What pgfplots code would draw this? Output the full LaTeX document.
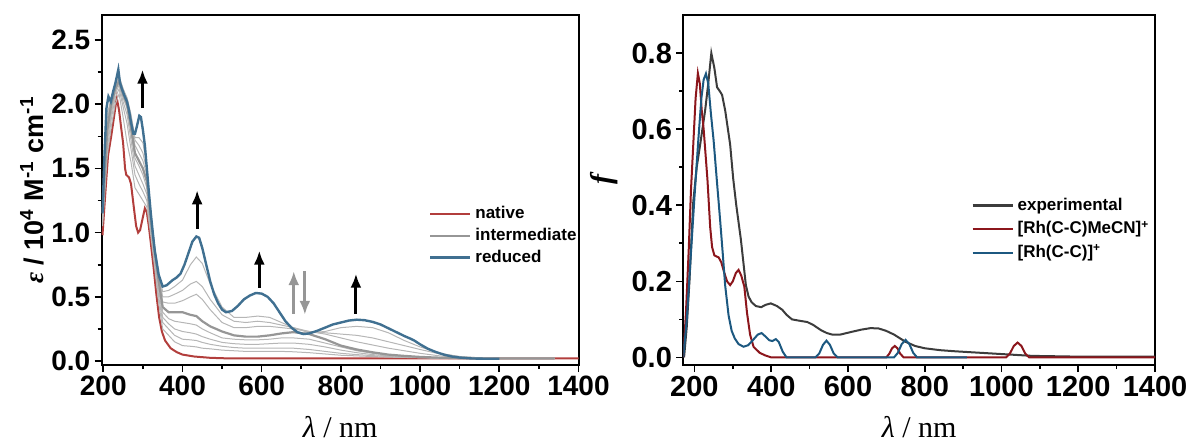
\documentclass[border=0pt]{standalone}
\usepackage{fontspec}
\setmainfont{Liberation Sans}
\newfontfamily\serif{Liberation Serif}
\usepackage{pgfplots}
\pgfplotsset{compat=1.18}
\usepackage{pgfplotstable}
\usetikzlibrary{arrows.meta}
\definecolor{natred}{RGB}{178,62,60}
\definecolor{redblue}{RGB}{64,112,145}
\definecolor{ltgray}{RGB}{182,182,182}
\definecolor{mdgray}{RGB}{150,150,150}
\definecolor{expgray}{RGB}{60,60,60}
\definecolor{calcred}{RGB}{140,22,28}
\definecolor{calcblue}{RGB}{28,88,128}

\pgfplotstableread{
lam g1 g2 g3 g4 g5 g6 g7 g8
198 1.05 1.08 1.10 1.12 1.15 1.18 1.20 1.22
210 1.60 1.65 1.70 1.75 1.80 1.85 1.88 1.92
220 1.82 1.88 1.92 1.95 2.00 2.02 2.03 2.05
230 2.00 2.05 2.08 2.10 2.12 2.14 2.15 2.16
240 2.08 2.12 2.15 2.17 2.18 2.20 2.20 2.22
250 1.90 1.98 2.02 2.05 2.08 2.10 2.12 2.12
260 1.70 1.85 1.92 1.97 2.00 2.02 2.04 2.05
270 1.55 1.65 1.72 1.78 1.82 1.85 1.90 1.92
280 1.35 1.45 1.52 1.58 1.62 1.68 1.72 1.74
290 1.30 1.38 1.45 1.52 1.56 1.62 1.68 1.74
300 1.25 1.32 1.38 1.45 1.50 1.56 1.62 1.70
310 1.20 1.25 1.30 1.35 1.40 1.45 1.48 1.52
320 0.98 1.02 1.05 1.08 1.10 1.12 1.14 1.15
330 0.72 0.76 0.80 0.83 0.85 0.86 0.87 0.88
340 0.45 0.50 0.55 0.60 0.62 0.64 0.66 0.68
350 0.25 0.30 0.34 0.38 0.42 0.46 0.50 0.54
365 0.20 0.25 0.29 0.33 0.38 0.45 0.50 0.55
380 0.15 0.20 0.25 0.31 0.38 0.45 0.52 0.58
400 0.12 0.17 0.23 0.30 0.38 0.47 0.55 0.63
420 0.115 0.165 0.22 0.29 0.36 0.50 0.60 0.75
435 0.11 0.16 0.21 0.28 0.35 0.52 0.62 0.81
450 0.10 0.145 0.19 0.25 0.31 0.48 0.58 0.76
470 0.095 0.13 0.17 0.22 0.27 0.40 0.48 0.60
500 0.085 0.115 0.145 0.18 0.23 0.30 0.36 0.42
530 0.08 0.105 0.135 0.17 0.20 0.26 0.31 0.34
560 0.075 0.10 0.13 0.165 0.19 0.26 0.30 0.34
590 0.075 0.10 0.13 0.165 0.19 0.27 0.31 0.35
620 0.075 0.10 0.135 0.17 0.20 0.27 0.30 0.34
650 0.075 0.10 0.14 0.18 0.215 0.26 0.28 0.30
680 0.072 0.10 0.14 0.18 0.225 0.25 0.26 0.26
720 0.065 0.09 0.13 0.17 0.21 0.23 0.23 0.22
760 0.055 0.075 0.11 0.14 0.17 0.21 0.22 0.23
800 0.045 0.06 0.085 0.11 0.12 0.18 0.21 0.26
840 0.04 0.05 0.065 0.08 0.09 0.15 0.20 0.27
880 0.035 0.042 0.05 0.06 0.068 0.125 0.18 0.26
920 0.03 0.035 0.04 0.045 0.05 0.10 0.15 0.22
960 0.028 0.03 0.033 0.035 0.04 0.08 0.12 0.16
1000 0.025 0.027 0.028 0.03 0.032 0.06 0.09 0.11
1050 0.022 0.023 0.024 0.025 0.026 0.04 0.055 0.06
1100 0.02 0.02 0.021 0.021 0.022 0.028 0.035 0.035
1150 0.02 0.02 0.02 0.02 0.02 0.022 0.025 0.025
1200 0.02 0.02 0.02 0.02 0.02 0.02 0.02 0.02
1340 0.02 0.02 0.02 0.02 0.02 0.02 0.02 0.02
}\graytab

\pgfplotsset{myax/.style={
  scale only axis,
  axis line style={line width=1pt},
  tick pos=left, tick align=outside,
  major tick length=3.5pt, minor tick length=2pt,
  every tick/.append style={black, line width=0.8pt},
  minor tick num=1,
  xtick={200,400,600,800,1000,1200,1400},
  tick label style={font=\bfseries\fontsize{14}{14}\selectfont},
  /pgf/number format/assume math mode=true,
  xticklabel style={/pgf/number format/1000 sep={}, inner sep=2pt},
  yticklabel style={/pgf/number format/fixed, /pgf/number format/fixed zerofill, /pgf/number format/precision=1, inner sep=2pt},
  xlabel style={at={(axis description cs:0.5,0)}, anchor=base, yshift=-36pt, font=\serif\fontsize{15}{15}\selectfont},
  legend cell align=left,
  legend image code/.code={\draw[#1, line width=1.1pt] (0pt,0pt) -- (20pt,0pt);},
}}

\begin{document}
\begin{tikzpicture}
\useasboundingbox (0,0) rectangle (594.5pt,220.5pt);

\begin{axis}[myax,
  at={(50.85pt,38pt)}, anchor=south west,
  width=238.4pt, height=175pt,
  xmin=196, xmax=1400, ymin=-0.031, ymax=2.695,
  ytick={0,0.5,1,1.5,2,2.5},
  xlabel={{\itshape λ} / nm},
  ylabel={{\serif\itshape ε} / 10\textsuperscript{4} M\textsuperscript{-1} cm\textsuperscript{-1}},
  ylabel style={at={(axis description cs:-0.146,0.5)}, anchor=center, font=\bfseries\fontsize{13.5}{13.5}\selectfont},
  legend style={at={(axis description cs:0.686,0.466)}, anchor=north west, draw=none, fill=none,
    font=\bfseries\fontsize{8.5}{8.5}\selectfont, row sep=-0.75pt, inner sep=0pt},
]
\addlegendimage{natred}
\addlegendentry{native}
\addlegendimage{mdgray}
\addlegendentry{intermediate}
\addlegendimage{redblue}
\addlegendentry{reduced}

\addplot[natred, line width=1pt, forget plot] coordinates {
(198,0.98) (205,1.3) (212,1.6) (220,1.75) (228,1.92) (234,2.05) (240,1.95) (245,1.82) (250,1.7) (255,1.5) (258,1.45) (265,1.43) (270,1.38) (277,1.2) (283,1.05) (288,1.0) (293,1.02) (300,1.12) (305,1.19) (310,1.16) (315,1.05) (320,0.92) (327,0.73) (334,0.52) (341,0.34) (348,0.23) (356,0.16) (370,0.1) (385,0.07) (400,0.05) (430,0.035) (470,0.025) (520,0.02) (1400,0.02)};

\addplot[ltgray, line width=0.5pt, forget plot] table[x=lam, y=g1] {\graytab};
\addplot[ltgray, line width=0.5pt, forget plot] table[x=lam, y=g2] {\graytab};
\addplot[ltgray, line width=0.5pt, forget plot] table[x=lam, y=g3] {\graytab};
\addplot[ltgray, line width=0.5pt, forget plot] table[x=lam, y=g4] {\graytab};
\addplot[ltgray, line width=0.5pt, forget plot] table[x=lam, y=g6] {\graytab};
\addplot[ltgray, line width=0.5pt, forget plot] table[x=lam, y=g7] {\graytab};
\addplot[ltgray, line width=0.5pt, forget plot] table[x=lam, y=g8] {\graytab};
\addplot[mdgray, line width=1.1pt, forget plot] table[x=lam, y=g5] {\graytab};

\addplot[redblue, line width=1.2pt, forget plot] coordinates {
(198,1.15) (203,1.6) (208,1.97) (213,2.06) (219,2.02) (225,2.1) (231,2.17) (238,2.27) (242,2.17) (247,2.12) (253,2.07) (260,2.02) (265,1.95) (270,1.86) (276,1.77) (280,1.77) (285,1.83) (291,1.91) (295,1.9) (300,1.8) (305,1.68) (310,1.5) (315,1.32) (320,1.15) (325,1.0) (330,0.86) (340,0.67) (350,0.58) (360,0.59) (375,0.63) (385,0.65) (395,0.68) (405,0.75) (415,0.84) (425,0.93) (435,0.97) (442,0.96) (450,0.88) (460,0.75) (470,0.62) (480,0.52) (490,0.45) (500,0.4) (510,0.38) (525,0.39) (540,0.43) (555,0.48) (570,0.51) (585,0.53) (600,0.525) (615,0.5) (630,0.45) (645,0.38) (660,0.31) (675,0.26) (690,0.225) (705,0.21) (720,0.215) (740,0.235) (760,0.26) (780,0.285) (800,0.3) (820,0.315) (840,0.322) (860,0.318) (880,0.305) (900,0.285) (920,0.255) (940,0.225) (960,0.195) (975,0.175) (985,0.16) (1000,0.13) (1020,0.095) (1040,0.07) (1060,0.05) (1080,0.035) (1100,0.027) (1130,0.02) (1160,0.018) (1200,0.018)};

\draw[-{Latex[length=7pt,width=5.5pt]}, line width=1.5pt] (axis cs:299,1.97) -- (axis cs:299,2.27);
\draw[-{Latex[length=7pt,width=5.5pt]}, line width=1.5pt] (axis cs:437,1.03) -- (axis cs:437,1.33);
\draw[-{Latex[length=7pt,width=5.5pt]}, line width=1.5pt] (axis cs:594,0.57) -- (axis cs:594,0.86);
\draw[-{Latex[length=7pt,width=5.5pt]}, line width=1.5pt] (axis cs:838,0.37) -- (axis cs:838,0.68);
\draw[-{Latex[length=7pt,width=5.5pt]}, line width=1.5pt, mdgray] (axis cs:681,0.37) -- (axis cs:681,0.70);
\draw[-{Latex[length=7pt,width=5.5pt]}, line width=1.5pt, mdgray] (axis cs:709,0.70) -- (axis cs:709,0.36);
\end{axis}

\begin{axis}[myax,
  at={(341.65pt,38pt)}, anchor=south west,
  width=235.85pt, height=175pt,
  xmin=171, xmax=1400, ymin=-0.02, ymax=0.9,
  ytick={0,0.2,0.4,0.6,0.8},
  tick label style={font=\bfseries\fontsize{14.5}{14.5}\selectfont},
  xlabel={{\itshape λ} / nm},
  ylabel={f},
  ylabel style={at={(axis description cs:-0.168,0.53)}, anchor=center, font=\serif\bfseries\itshape\fontsize{15}{15}\selectfont},
  legend style={at={(axis description cs:0.61,0.49)}, anchor=north west, draw=none, fill=none,
    font=\bfseries\fontsize{8.5}{8.5}\selectfont, row sep=0pt, inner sep=0pt},
]
\addplot[expgray, line width=1pt] coordinates {
(173,0.0) (180,0.08) (187,0.2) (197,0.41) (206,0.5) (215,0.56) (228,0.65) (236,0.72) (244,0.80) (252,0.76) (259,0.71) (266,0.70) (272,0.69) (280,0.65) (293,0.56) (301,0.47) (309,0.40) (321,0.31) (334,0.19) (341,0.16) (349,0.145) (360,0.135) (374,0.132) (385,0.138) (399,0.142) (415,0.135) (429,0.125) (440,0.112) (454,0.10) (470,0.097) (494,0.093) (510,0.085) (529,0.072) (545,0.064) (559,0.06) (580,0.06) (609,0.067) (635,0.073) (659,0.077) (680,0.076) (699,0.07) (720,0.06) (750,0.041) (775,0.03) (800,0.024) (840,0.019) (880,0.016) (930,0.013) (980,0.01) (1030,0.007) (1080,0.004) (1200,0.002) (1400,0.002)};
\addlegendentry{experimental}
\addplot[calcred, line width=1pt] coordinates {
(171,0.0) (178,0.12) (185,0.28) (191,0.44) (197,0.56) (203,0.68) (209,0.747) (214,0.72) (219,0.65) (224,0.6) (230,0.52) (234,0.466) (241,0.343) (246,0.29) (252,0.268) (258,0.265) (263,0.263) (270,0.25) (277,0.225) (285,0.2) (293,0.19) (300,0.2) (308,0.222) (315,0.23) (322,0.215) (330,0.186) (337,0.117) (345,0.06) (354,0.028) (370,0.012) (385,0.005) (400,0.0) (700,0.0) (708,0.01) (715,0.024) (722,0.03) (729,0.024) (736,0.01) (745,0.0) (1012,0.0) (1022,0.01) (1032,0.03) (1042,0.039) (1052,0.03) (1062,0.01) (1072,0.0) (1400,0.0)};
\addlegendentry{[Rh(C-C)MeCN]\textsuperscript{+}}
\addplot[calcblue, line width=1pt] coordinates {
(171,0.0) (180,0.1) (190,0.26) (200,0.42) (210,0.57) (218,0.68) (224,0.73) (230,0.746) (236,0.72) (243,0.64) (250,0.57) (258,0.47) (267,0.36) (274,0.27) (280,0.19) (289,0.11) (297,0.07) (305,0.05) (315,0.035) (328,0.028) (340,0.032) (352,0.045) (365,0.06) (375,0.064) (385,0.055) (395,0.045) (403,0.043) (412,0.048) (420,0.04) (430,0.015) (440,0.0) (515,0.0) (525,0.01) (535,0.033) (544,0.044) (553,0.033) (563,0.01) (573,0.0) (720,0.0) (730,0.012) (740,0.035) (750,0.046) (760,0.035) (770,0.012) (780,0.0) (910,0.0)};
\addlegendentry{[Rh(C-C)]\textsuperscript{+}}
\end{axis}
\end{tikzpicture}
\end{document}
